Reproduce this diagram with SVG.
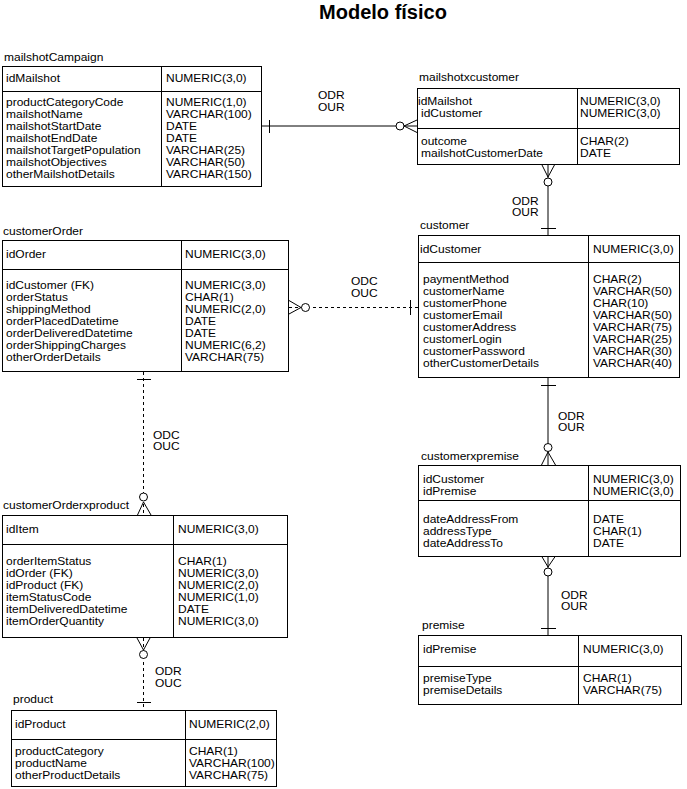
<svg xmlns="http://www.w3.org/2000/svg" width="687" height="789" viewBox="0 0 687 789">
  <style>
    text { font-family: "Liberation Sans", Arial, Helvetica, sans-serif; font-size: 12px; fill: #000; }
    .title { font-size: 20px; font-weight: bold; }
    .box { fill: #fff; stroke: #000; stroke-width: 1; }
    .div { stroke: #000; stroke-width: 1; fill: none; }
    .rel { stroke: #000; stroke-width: 1; fill: none; }
    .dash { stroke-dasharray: 3 3; }
    .mark { stroke: #000; stroke-width: 1; fill: none; }
    .ring { fill: #fff; stroke: #000; stroke-width: 1; }
  </style>
  <!-- Attribute lists are set 12px apart; each text block uses a slightly
       condensed vertical scale (0.88) so its lines stay on a 12px pitch:
       transform="matrix(1 0 0 .88 0 BASELINE)", line step 13.636 local units. -->

  <rect width="687" height="789" fill="#fff"/>

  <text class="title" x="383" y="19" text-anchor="middle">Modelo físico</text>

  <!-- relationships -->
  <g id="connectors">
    <!-- mailshotCampaign 1 : N mailshotxcustomer -->
    <line class="rel" x1="262" y1="126" x2="417" y2="126"/>
    <line class="mark" x1="269.5" y1="120" x2="269.5" y2="133"/>
    <polyline class="mark" points="417,120 404,126 417,132.5"/>
    <circle class="ring" cx="400" cy="126" r="4"/>
    <text transform="matrix(1 0 0 .88 0 99)" x="318">ODR<tspan x="318" dy="13.636">OUR</tspan></text>

    <!-- customer 1 : N mailshotxcustomer -->
    <line class="rel" x1="548" y1="164" x2="548" y2="235"/>
    <polyline class="mark" points="541.5,164 548,177 555,164"/>
    <circle class="ring" cx="548" cy="182" r="4"/>
    <line class="mark" x1="541" y1="228.5" x2="556" y2="228.5"/>
    <text transform="matrix(1 0 0 .88 0 204.5)" x="512">ODR<tspan x="512" dy="13.636">OUR</tspan></text>

    <!-- customer 1 : N customerOrder -->
    <line class="rel dash" x1="289" y1="307.5" x2="418" y2="307.5"/>
    <polyline class="mark" points="289,300.5 301,307.5 289,314"/>
    <circle class="ring" cx="305.5" cy="307.5" r="4"/>
    <line class="mark" x1="410.5" y1="300" x2="410.5" y2="315"/>
    <text transform="matrix(1 0 0 .88 0 285)" x="351">ODC<tspan x="351" dy="13.636">OUC</tspan></text>

    <!-- customerOrder 1 : N customerOrderxproduct -->
    <line class="rel dash" x1="143.5" y1="372" x2="143.5" y2="515"/>
    <line class="mark" x1="137" y1="379.5" x2="151" y2="379.5"/>
    <polyline class="mark" points="137.5,515 143.5,502 151,515"/>
    <circle class="ring" cx="143.5" cy="497" r="4"/>
    <text transform="matrix(1 0 0 .88 0 438.5)" x="153">ODC<tspan x="153" dy="13.636">OUC</tspan></text>

    <!-- product 1 : N customerOrderxproduct -->
    <line class="rel dash" x1="143.5" y1="638" x2="143.5" y2="710"/>
    <polyline class="mark" points="137,638 143.5,650 150,638"/>
    <circle class="ring" cx="143.5" cy="654.5" r="4"/>
    <line class="mark" x1="137" y1="702.5" x2="151" y2="702.5"/>
    <text transform="matrix(1 0 0 .88 0 675)" x="155">ODR<tspan x="155" dy="13.636">OUC</tspan></text>

    <!-- customer 1 : N customerxpremise -->
    <line class="rel" x1="548" y1="378" x2="548" y2="465"/>
    <line class="mark" x1="541" y1="385.5" x2="556" y2="385.5"/>
    <polyline class="mark" points="541.5,465 548,452 555.5,465"/>
    <circle class="ring" cx="548" cy="447.5" r="4"/>
    <text transform="matrix(1 0 0 .88 0 419.5)" x="558">ODR<tspan x="558" dy="13.636">OUR</tspan></text>

    <!-- premise 1 : N customerxpremise -->
    <line class="rel" x1="548" y1="556" x2="548" y2="635"/>
    <polyline class="mark" points="541.5,556 548,567 555.5,556"/>
    <circle class="ring" cx="548" cy="572" r="4"/>
    <line class="mark" x1="541" y1="628.5" x2="556" y2="628.5"/>
    <text transform="matrix(1 0 0 .88 0 598.5)" x="561">ODR<tspan x="561" dy="13.636">OUR</tspan></text>
  </g>

  <!-- tables: each column of attributes is one multi-line text block -->
  <g id="mailshotCampaign">
    <text transform="matrix(1 0 0 .88 0 61)" x="4">mailshotCampaign</text>
    <rect class="box" x="2.5" y="66.5" width="259" height="120"/>
    <line class="div" x1="2.5" y1="91.5" x2="261.5" y2="91.5"/>
    <line class="div" x1="161.5" y1="66.5" x2="161.5" y2="186.5"/>
    <text transform="matrix(1 0 0 .88 0 82)" x="6">idMailshot</text>
    <text transform="matrix(1 0 0 .88 0 82)" x="166">NUMERIC(3,0)</text>
    <text transform="matrix(1 0 0 .88 0 106)" x="6">productCategoryCode<tspan x="6" dy="13.636">mailshotName</tspan><tspan x="6" dy="13.636">mailshotStartDate</tspan><tspan x="6" dy="13.636">mailshotEndDate</tspan><tspan x="6" dy="13.636">mailshotTargetPopulation</tspan><tspan x="6" dy="13.636">mailshotObjectives</tspan><tspan x="6" dy="13.636">otherMailshotDetails</tspan></text>
    <text transform="matrix(1 0 0 .88 0 106)" x="166">NUMERIC(1,0)<tspan x="166" dy="13.636">VARCHAR(100)</tspan><tspan x="166" dy="13.636">DATE</tspan><tspan x="166" dy="13.636">DATE</tspan><tspan x="166" dy="13.636">VARCHAR(25)</tspan><tspan x="166" dy="13.636">VARCHAR(50)</tspan><tspan x="166" dy="13.636">VARCHAR(150)</tspan></text>
  </g>

  <g id="mailshotxcustomer">
    <text transform="matrix(1 0 0 .88 0 81)" x="419">mailshotxcustomer</text>
    <rect class="box" x="417.5" y="88.5" width="262" height="76"/>
    <line class="div" x1="417.5" y1="128.5" x2="679.5" y2="128.5"/>
    <line class="div" x1="577.5" y1="88.5" x2="577.5" y2="164.5"/>
    <text transform="matrix(1 0 0 .88 0 105)" x="418">idMailshot<tspan x="421" dy="13.636">idCustomer</tspan></text>
    <text transform="matrix(1 0 0 .88 0 105)" x="580">NUMERIC(3,0)<tspan x="580" dy="13.636">NUMERIC(3,0)</tspan></text>
    <text transform="matrix(1 0 0 .88 0 145)" x="421">outcome<tspan x="421" dy="13.636">mailshotCustomerDate</tspan></text>
    <text transform="matrix(1 0 0 .88 0 145)" x="580">CHAR(2)<tspan x="580" dy="13.636">DATE</tspan></text>
  </g>

  <g id="customer">
    <text transform="matrix(1 0 0 .88 0 229)" x="420">customer</text>
    <rect class="box" x="418.5" y="235.5" width="261" height="142"/>
    <line class="div" x1="418.5" y1="262.5" x2="679.5" y2="262.5"/>
    <line class="div" x1="588.5" y1="235.5" x2="588.5" y2="377.5"/>
    <text transform="matrix(1 0 0 .88 0 253)" x="420">idCustomer</text>
    <text transform="matrix(1 0 0 .88 0 253)" x="593">NUMERIC(3,0)</text>
    <text transform="matrix(1 0 0 .88 0 283)" x="423">paymentMethod<tspan x="423" dy="13.636">customerName</tspan><tspan x="423" dy="13.636">customerPhone</tspan><tspan x="423" dy="13.636">customerEmail</tspan><tspan x="423" dy="13.636">customerAddress</tspan><tspan x="423" dy="13.636">customerLogin</tspan><tspan x="423" dy="13.636">customerPassword</tspan><tspan x="423" dy="13.636">otherCustomerDetails</tspan></text>
    <text transform="matrix(1 0 0 .88 0 283)" x="593">CHAR(2)<tspan x="593" dy="13.636">VARCHAR(50)</tspan><tspan x="593" dy="13.636">CHAR(10)</tspan><tspan x="593" dy="13.636">VARCHAR(50)</tspan><tspan x="593" dy="13.636">VARCHAR(75)</tspan><tspan x="593" dy="13.636">VARCHAR(25)</tspan><tspan x="593" dy="13.636">VARCHAR(30)</tspan><tspan x="593" dy="13.636">VARCHAR(40)</tspan></text>
  </g>

  <g id="customerOrder">
    <text transform="matrix(1 0 0 .88 0 235)" x="3">customerOrder</text>
    <rect class="box" x="2.5" y="240.5" width="286" height="131"/>
    <line class="div" x1="2.5" y1="269.5" x2="288.5" y2="269.5"/>
    <line class="div" x1="181.5" y1="240.5" x2="181.5" y2="371.5"/>
    <text transform="matrix(1 0 0 .88 0 258)" x="6">idOrder</text>
    <text transform="matrix(1 0 0 .88 0 258)" x="185">NUMERIC(3,0)</text>
    <text transform="matrix(1 0 0 .88 0 289)" x="6">idCustomer (FK)<tspan x="6" dy="13.636">orderStatus</tspan><tspan x="6" dy="13.636">shippingMethod</tspan><tspan x="6" dy="13.636">orderPlacedDatetime</tspan><tspan x="6" dy="13.636">orderDeliveredDatetime</tspan><tspan x="6" dy="13.636">orderShippingCharges</tspan><tspan x="6" dy="13.636">otherOrderDetails</tspan></text>
    <text transform="matrix(1 0 0 .88 0 289)" x="185">NUMERIC(3,0)<tspan x="185" dy="13.636">CHAR(1)</tspan><tspan x="185" dy="13.636">NUMERIC(2,0)</tspan><tspan x="185" dy="13.636">DATE</tspan><tspan x="185" dy="13.636">DATE</tspan><tspan x="185" dy="13.636">NUMERIC(6,2)</tspan><tspan x="185" dy="13.636">VARCHAR(75)</tspan></text>
  </g>

  <g id="customerOrderxproduct">
    <text transform="matrix(1 0 0 .88 0 509)" x="3">customerOrderxproduct</text>
    <rect class="box" x="2.5" y="515.5" width="285" height="122"/>
    <line class="div" x1="2.5" y1="544.5" x2="287.5" y2="544.5"/>
    <line class="div" x1="173.5" y1="515.5" x2="173.5" y2="637.5"/>
    <text transform="matrix(1 0 0 .88 0 533)" x="6">idItem</text>
    <text transform="matrix(1 0 0 .88 0 533)" x="178">NUMERIC(3,0)</text>
    <text transform="matrix(1 0 0 .88 0 565)" x="6">orderItemStatus<tspan x="6" dy="13.636">idOrder (FK)</tspan><tspan x="6" dy="13.636">idProduct (FK)</tspan><tspan x="6" dy="13.636">itemStatusCode</tspan><tspan x="6" dy="13.636">itemDeliveredDatetime</tspan><tspan x="6" dy="13.636">itemOrderQuantity</tspan></text>
    <text transform="matrix(1 0 0 .88 0 565)" x="178">CHAR(1)<tspan x="178" dy="13.636">NUMERIC(3,0)</tspan><tspan x="178" dy="13.636">NUMERIC(2,0)</tspan><tspan x="178" dy="13.636">NUMERIC(1,0)</tspan><tspan x="178" dy="13.636">DATE</tspan><tspan x="178" dy="13.636">NUMERIC(3,0)</tspan></text>
  </g>

  <g id="customerxpremise">
    <text transform="matrix(1 0 0 .88 0 460)" x="421">customerxpremise</text>
    <rect class="box" x="418.5" y="465.5" width="262" height="91"/>
    <line class="div" x1="418.5" y1="500.5" x2="680.5" y2="500.5"/>
    <line class="div" x1="588.5" y1="465.5" x2="588.5" y2="556.5"/>
    <text transform="matrix(1 0 0 .88 0 483)" x="423">idCustomer<tspan x="423" dy="13.636">idPremise</tspan></text>
    <text transform="matrix(1 0 0 .88 0 483)" x="593">NUMERIC(3,0)<tspan x="593" dy="13.636">NUMERIC(3,0)</tspan></text>
    <text transform="matrix(1 0 0 .88 0 523)" x="423">dateAddressFrom<tspan x="423" dy="13.636">addressType</tspan><tspan x="423" dy="13.636">dateAddressTo</tspan></text>
    <text transform="matrix(1 0 0 .88 0 523)" x="593">DATE<tspan x="593" dy="13.636">CHAR(1)</tspan><tspan x="593" dy="13.636">DATE</tspan></text>
  </g>

  <g id="premise">
    <text transform="matrix(1 0 0 .88 0 629)" x="422">premise</text>
    <rect class="box" x="418.5" y="635.5" width="263" height="69"/>
    <line class="div" x1="418.5" y1="666.5" x2="681.5" y2="666.5"/>
    <line class="div" x1="578.5" y1="635.5" x2="578.5" y2="704.5"/>
    <text transform="matrix(1 0 0 .88 0 653)" x="423">idPremise</text>
    <text transform="matrix(1 0 0 .88 0 653)" x="583">NUMERIC(3,0)</text>
    <text transform="matrix(1 0 0 .88 0 682)" x="423">premiseType<tspan x="423" dy="13.636">premiseDetails</tspan></text>
    <text transform="matrix(1 0 0 .88 0 682)" x="583">CHAR(1)<tspan x="583" dy="13.636">VARCHAR(75)</tspan></text>
  </g>

  <g id="product">
    <text transform="matrix(1 0 0 .88 0 703)" x="13">product</text>
    <rect class="box" x="11.5" y="710.5" width="265" height="76"/>
    <line class="div" x1="11.5" y1="739.5" x2="276.5" y2="739.5"/>
    <line class="div" x1="185.5" y1="710.5" x2="185.5" y2="786.5"/>
    <text transform="matrix(1 0 0 .88 0 728)" x="15">idProduct</text>
    <text transform="matrix(1 0 0 .88 0 728)" x="189">NUMERIC(2,0)</text>
    <text transform="matrix(1 0 0 .88 0 755)" x="15">productCategory<tspan x="15" dy="13.636">productName</tspan><tspan x="15" dy="13.636">otherProductDetails</tspan></text>
    <text transform="matrix(1 0 0 .88 0 755)" x="189">CHAR(1)<tspan x="189" dy="13.636">VARCHAR(100)</tspan><tspan x="189" dy="13.636">VARCHAR(75)</tspan></text>
  </g>
</svg>
